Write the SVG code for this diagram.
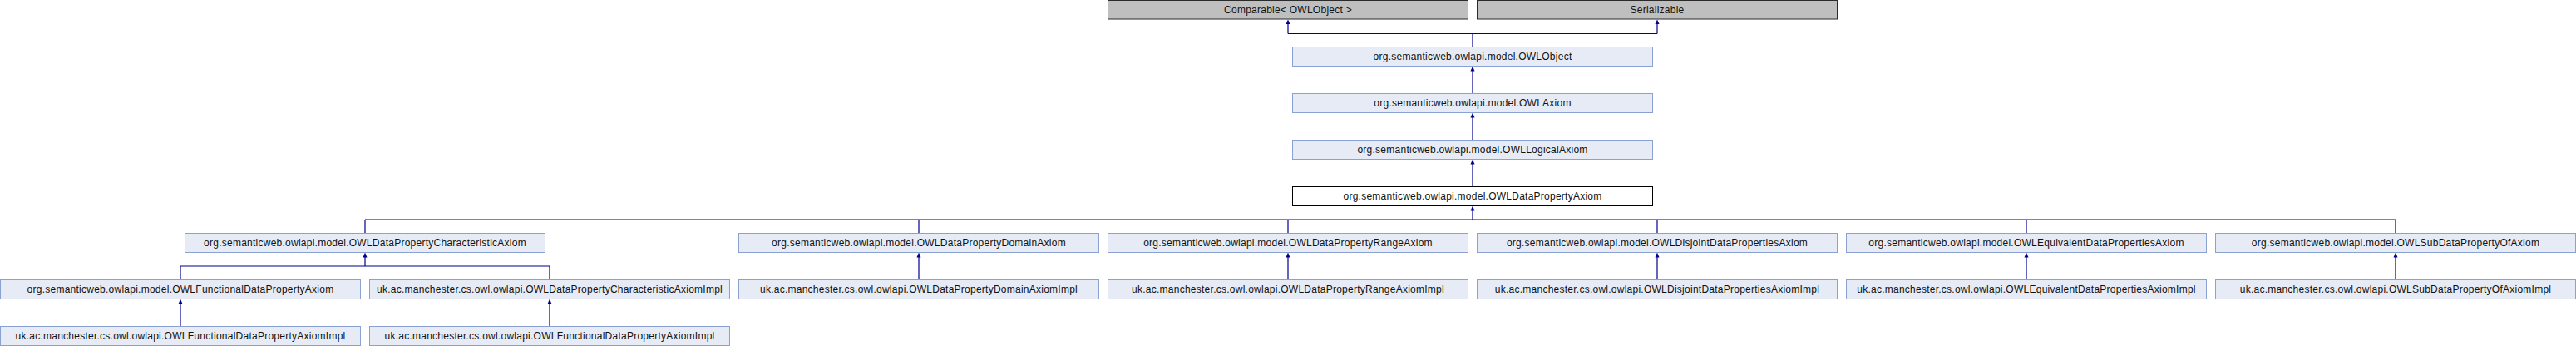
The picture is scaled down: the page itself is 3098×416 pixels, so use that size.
<svg xmlns="http://www.w3.org/2000/svg" width="3098" height="416" viewBox="0 0 3098 416">
<style>
.n rect{fill:#E6EBF5;stroke:#8AA2D2;stroke-width:1}
.g rect{fill:#BFBFBF;stroke:#2a2a2a;stroke-width:1}
.w rect{fill:#FFFFFF;stroke:#000000;stroke-width:1}
text{font-family:"Liberation Sans",Arial,sans-serif;font-size:12px;letter-spacing:0.25px;fill:#111;text-anchor:middle}
#connectors path{fill:none;stroke:#00008C;stroke-width:1.2}
#connectors polygon{fill:#00008C;stroke:none}
</style>
<g id="connectors">
<path d="M1771,56.5V40.5M1549,40.5H1993M1549,40.5V28M1993,40.5V28"/>
<polygon points="1549,23.5 1546.5,29 1551.5,29"/>
<polygon points="1993,23.5 1990.5,29 1995.5,29"/>
<path d="M1771,112.5V85"/>
<polygon points="1771,79.5 1768.5,85.5 1773.5,85.5"/>
<path d="M1771,168.5V141"/>
<polygon points="1771,135.5 1768.5,141.5 1773.5,141.5"/>
<path d="M1771,224.5V197"/>
<polygon points="1771,191.5 1768.5,197.5 1773.5,197.5"/>
<path d="M1771,264V253M439,264H2881M439,280.5V264M1105,280.5V264M1549,280.5V264M1993,280.5V264M2437,280.5V264M2881,280.5V264"/>
<polygon points="1771,247.5 1768.5,253.5 1773.5,253.5"/>
<path d="M439,320V309M217,320H661M217,336.5V320M661,336.5V320"/>
<polygon points="439,303.5 436.5,309.5 441.5,309.5"/>
<path d="M1105,336.5V309M1549,336.5V309M1993,336.5V309M2437,336.5V309M2881,336.5V309"/>
<polygon points="1105,303.5 1102.5,309.5 1107.5,309.5"/>
<polygon points="1549,303.5 1546.5,309.5 1551.5,309.5"/>
<polygon points="1993,303.5 1990.5,309.5 1995.5,309.5"/>
<polygon points="2437,303.5 2434.5,309.5 2439.5,309.5"/>
<polygon points="2881,303.5 2878.5,309.5 2883.5,309.5"/>
<path d="M217,392.5V365M661,392.5V365"/>
<polygon points="217,359.5 214.5,365.5 219.5,365.5"/>
<polygon points="661,359.5 658.5,365.5 663.5,365.5"/>
</g>
<g id="comparable" class="g"><rect x="1332.5" y="0.5" width="433" height="22.5"/><text x="1549" y="15.5">Comparable&lt; OWLObject &gt;</text></g>
<g id="serializable" class="g"><rect x="1776.5" y="0.5" width="433" height="22.5"/><text x="1993" y="15.5">Serializable</text></g>
<g id="owlobject" class="n"><rect x="1554.5" y="56.5" width="433" height="23"/><text x="1771" y="72">org.semanticweb.owlapi.model.OWLObject</text></g>
<g id="owlaxiom" class="n"><rect x="1554.5" y="112.5" width="433" height="23"/><text x="1771" y="128">org.semanticweb.owlapi.model.OWLAxiom</text></g>
<g id="owllogicalaxiom" class="n"><rect x="1554.5" y="168.5" width="433" height="23"/><text x="1771" y="184">org.semanticweb.owlapi.model.OWLLogicalAxiom</text></g>
<g id="owldatapropertyaxiom" class="w"><rect x="1554.5" y="224.5" width="433" height="23"/><text x="1771" y="240">org.semanticweb.owlapi.model.OWLDataPropertyAxiom</text></g>
<g id="characteristic" class="n"><rect x="222.5" y="280.5" width="433" height="23"/><text x="439" y="296">org.semanticweb.owlapi.model.OWLDataPropertyCharacteristicAxiom</text></g>
<g id="domain" class="n"><rect x="888.5" y="280.5" width="433" height="23"/><text x="1105" y="296">org.semanticweb.owlapi.model.OWLDataPropertyDomainAxiom</text></g>
<g id="range" class="n"><rect x="1332.5" y="280.5" width="433" height="23"/><text x="1549" y="296">org.semanticweb.owlapi.model.OWLDataPropertyRangeAxiom</text></g>
<g id="disjoint" class="n"><rect x="1776.5" y="280.5" width="433" height="23"/><text x="1993" y="296">org.semanticweb.owlapi.model.OWLDisjointDataPropertiesAxiom</text></g>
<g id="equivalent" class="n"><rect x="2220.5" y="280.5" width="433" height="23"/><text x="2437" y="296">org.semanticweb.owlapi.model.OWLEquivalentDataPropertiesAxiom</text></g>
<g id="subdataproperty" class="n"><rect x="2664.5" y="280.5" width="433" height="23"/><text x="2881" y="296">org.semanticweb.owlapi.model.OWLSubDataPropertyOfAxiom</text></g>
<g id="functional" class="n"><rect x="0.5" y="336.5" width="433" height="23"/><text x="217" y="352">org.semanticweb.owlapi.model.OWLFunctionalDataPropertyAxiom</text></g>
<g id="characteristicimpl" class="n"><rect x="444.5" y="336.5" width="433" height="23"/><text x="661" y="352">uk.ac.manchester.cs.owl.owlapi.OWLDataPropertyCharacteristicAxiomImpl</text></g>
<g id="domainimpl" class="n"><rect x="888.5" y="336.5" width="433" height="23"/><text x="1105" y="352">uk.ac.manchester.cs.owl.owlapi.OWLDataPropertyDomainAxiomImpl</text></g>
<g id="rangeimpl" class="n"><rect x="1332.5" y="336.5" width="433" height="23"/><text x="1549" y="352">uk.ac.manchester.cs.owl.owlapi.OWLDataPropertyRangeAxiomImpl</text></g>
<g id="disjointimpl" class="n"><rect x="1776.5" y="336.5" width="433" height="23"/><text x="1993" y="352">uk.ac.manchester.cs.owl.owlapi.OWLDisjointDataPropertiesAxiomImpl</text></g>
<g id="equivalentimpl" class="n"><rect x="2220.5" y="336.5" width="433" height="23"/><text x="2437" y="352">uk.ac.manchester.cs.owl.owlapi.OWLEquivalentDataPropertiesAxiomImpl</text></g>
<g id="subdatapropertyimpl" class="n"><rect x="2664.5" y="336.5" width="433" height="23"/><text x="2881" y="352">uk.ac.manchester.cs.owl.owlapi.OWLSubDataPropertyOfAxiomImpl</text></g>
<g id="functionalimpl1" class="n"><rect x="0.5" y="392.5" width="433" height="23"/><text x="217" y="408">uk.ac.manchester.cs.owl.owlapi.OWLFunctionalDataPropertyAxiomImpl</text></g>
<g id="functionalimpl2" class="n"><rect x="444.5" y="392.5" width="433" height="23"/><text x="661" y="408">uk.ac.manchester.cs.owl.owlapi.OWLFunctionalDataPropertyAxiomImpl</text></g>
</svg>
